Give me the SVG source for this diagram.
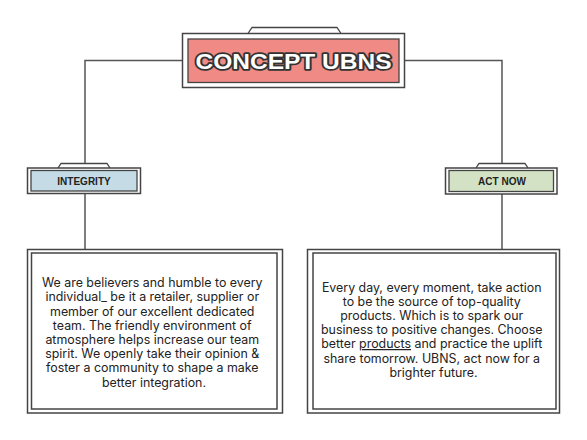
<svg xmlns="http://www.w3.org/2000/svg" width="587" height="440" viewBox="0 0 587 440">
<style>
.frame{fill:#ffffff;stroke:#444;stroke-width:1.5}
.inner{fill:none;stroke:#444;stroke-width:1.5}
.tab{fill:#ffffff;stroke:#444;stroke-width:1.3}
.conn{fill:none;stroke:#555;stroke-width:1.5}
.lbl{font-family:"Liberation Sans",Arial,sans-serif;font-weight:bold;font-size:10px;fill:#222;text-anchor:middle}
.body{font-family:Inter,"Liberation Sans",sans-serif;font-size:12.4px;fill:#222;text-anchor:middle}
</style>
<rect width="587" height="440" fill="#ffffff"/>
<g id="connectors">
<path class="conn" d="M182,60.5 H85 V168"/>
<path class="conn" d="M405,60.5 H502 V168"/>
<path class="conn" d="M85,193 V249"/>
<path class="conn" d="M502,194 V249"/>
</g>
<g id="title">
<path class="tab" d="M248,33.5 L252,27.5 H337 L341,33.5"/>
<rect class="frame" x="182.5" y="33.5" width="222" height="54"/>
<rect x="188" y="39" width="211" height="43.5" fill="#F08A84" stroke="#444" stroke-width="1.3"/>
<text x="293.5" y="68.5" font-family="'Liberation Sans',Arial,sans-serif" font-weight="900" font-size="22" fill="#ffffff" stroke="#333" stroke-width="3.6" stroke-linejoin="round" paint-order="stroke" text-anchor="middle" textLength="196" lengthAdjust="spacingAndGlyphs">CONCEPT UBNS</text>
</g>
<g id="integrity">
<path class="tab" d="M58,168 L61,163.5 H107 L110,168"/>
<rect class="frame" x="27.5" y="168" width="113" height="25.5"/>
<rect x="31" y="170.5" width="106" height="20.5" fill="#C5DCE6" stroke="#444" stroke-width="1.3"/>
<text class="lbl" x="84" y="184.5">INTEGRITY</text>
</g>
<g id="actnow">
<path class="tab" d="M476,168 L479,163.5 H525 L528,168"/>
<rect class="frame" x="445.5" y="168" width="111.5" height="26"/>
<rect x="449" y="170.5" width="104.5" height="21" fill="#D3E2C5" stroke="#444" stroke-width="1.3"/>
<text class="lbl" x="502" y="184.5">ACT NOW</text>
</g>
<g id="integrity-text">
<rect class="frame" x="27.5" y="249.5" width="255" height="163.5"/>
<rect class="inner" x="31.5" y="253" width="245.5" height="156"/>
<text class="body">
<tspan x="154" y="286.5">We are believers and humble to every</tspan>
<tspan x="154" y="301">individual_ be it a retailer, supplier or</tspan>
<tspan x="154" y="315.5">member of our excellent dedicated</tspan>
<tspan x="154" y="329.5">team. The friendly environment of</tspan>
<tspan x="154" y="343.5">atmosphere helps increase our team</tspan>
<tspan x="154" y="358">spirit. We openly take their opinion &amp;</tspan>
<tspan x="154" y="372">foster a community to shape a make</tspan>
<tspan x="154" y="387">better integration.</tspan>
</text>
</g>
<g id="actnow-text">
<rect class="frame" x="307.5" y="249.5" width="252" height="163.5"/>
<rect class="inner" x="313" y="253" width="243" height="156"/>
<text class="body">
<tspan x="433.5" y="292">Every day, every moment, take action</tspan>
<tspan x="433.5" y="306">to be the source of top-quality</tspan>
<tspan x="433.5" y="320">products. Which is to spark our</tspan>
<tspan x="433.5" y="334">business to positive changes. Choose</tspan>
<tspan x="433.5" y="348">better <tspan text-decoration="underline">products</tspan> and practice the uplift</tspan>
<tspan x="433.5" y="362.5">share tomorrow. UBNS, act now for a</tspan>
<tspan x="433.5" y="377">brighter future.</tspan>
</text>
</g>
</svg>
